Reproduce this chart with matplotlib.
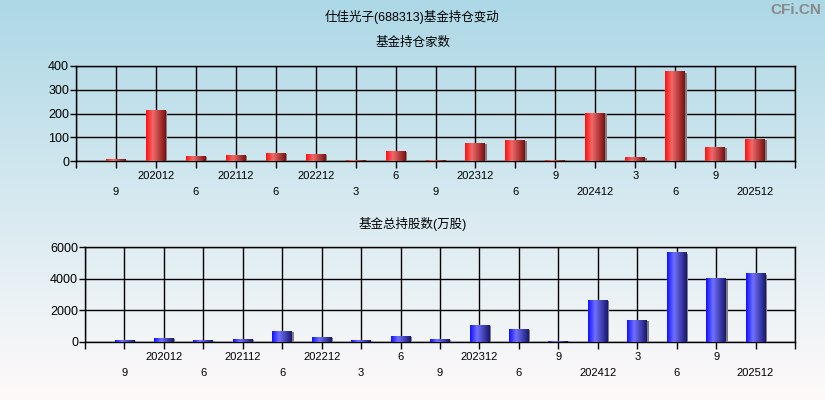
import numpy as np
import matplotlib
import matplotlib.pyplot as plt
from matplotlib.colors import LinearSegmentedColormap
from matplotlib.patches import Rectangle

plt.switch_backend('Agg')
plt.rcParams['font.family'] = ['Liberation Sans', 'Noto Sans CJK SC', 'DejaVu Sans']

title = "仕佳光子(688313)基金持仓变动"
title_top = "基金持仓家数"
title_bottom = "基金总持股数(万股)"

periods = ["9", "202012", "6", "202112", "6", "202212", "3", "6", "9",
           "202312", "6", "9", "202412", "3", "6", "9", "202512"]
fund_count = [5, 212, 18, 22, 31, 26, 4, 39, 4, 73, 85, 4, 199, 14, 377, 57, 90]
fund_shares = [80, 200, 70, 150, 650, 280, 70, 340, 130, 1030, 780, 60,
               2600, 1340, 5640, 3980, 4310]

red_cmap = LinearSegmentedColormap.from_list(
    "redbar", [(0, "#ff1010"), (0.35, "#f06a6a"), (1, "#7a1010")])
blue_cmap = LinearSegmentedColormap.from_list(
    "bluebar", [(0, "#1010ff"), (0.35, "#7070ff"), (1, "#181870")])

fig = plt.figure(figsize=(8.25, 4), dpi=100)

# background gradient
bg = fig.add_axes([0, 0, 1, 1], zorder=-10)
grad = np.linspace(0, 1, 256).reshape(-1, 1)
bg_cmap = LinearSegmentedColormap.from_list("bg", ["#add8e6", "#fffafa"])
bg.imshow(grad, cmap=bg_cmap, aspect='auto', extent=[0, 1, 0, 1], origin='upper')
bg.set_axis_off()

fig.text(0.5, 1 - 17 / 400, title, ha='center', va='center', fontsize=9)
fig.text(0.5, 1 - 43 / 400, title_top, ha='center', va='center', fontsize=9)
fig.text(0.5, 1 - 224 / 400, title_bottom, ha='center', va='center', fontsize=9)
fig.text(0.996, 1 - 10 / 400, "CFi.CN", ha='right', va='center', fontsize=11,
         color='#8a8a8a', fontweight='bold')


def draw_panel(rect, values, cmap, ymax, ystep):
    ax = fig.add_axes(rect)
    ax.patch.set_alpha(0)
    n = len(values)
    xs = np.arange(1, n + 1)
    w = 0.5
    gx = np.linspace(0, 1, 64).reshape(1, -1)
    for x, v in zip(xs, values):
        ax.add_patch(Rectangle((x + w / 2, 0), 0.04, v * 0.985, color='#808080',
                               lw=0, zorder=3))
        ax.imshow(gx, cmap=cmap, aspect='auto', extent=[x - w / 2, x + w / 2, 0, v],
                  zorder=4)
    ax.set_xlim(0, n + 1)
    ax.set_ylim(0, ymax)
    ax.set_xticks(np.arange(0, n + 2))
    ax.set_xticklabels([])
    ax.set_yticks(np.arange(0, ymax + 1, ystep))
    ax.tick_params(axis='y', labelsize=9, length=4, width=1, pad=1)
    ax.tick_params(axis='x', length=5, width=1)
    ax.grid(True, color='black', lw=1, zorder=1)
    ax.set_axisbelow(True)
    for sp in ax.spines.values():
        sp.set_linewidth(1)
    tr = ax.get_xaxis_transform()
    for i, lab in enumerate(periods):
        y = -0.158 if i % 2 == 1 else -0.326
        ax.text(xs[i], y, lab, transform=tr, ha='center', va='center', fontsize=8)
    return ax


draw_panel([76 / 825, 1 - 161 / 400, 719 / 825, 95 / 400], fund_count, red_cmap, 400, 100)
draw_panel([85 / 825, 1 - 342 / 400, 710 / 825, 95 / 400], fund_shares, blue_cmap, 6000, 2000)

plt.savefig("out.png", dpi=100)
